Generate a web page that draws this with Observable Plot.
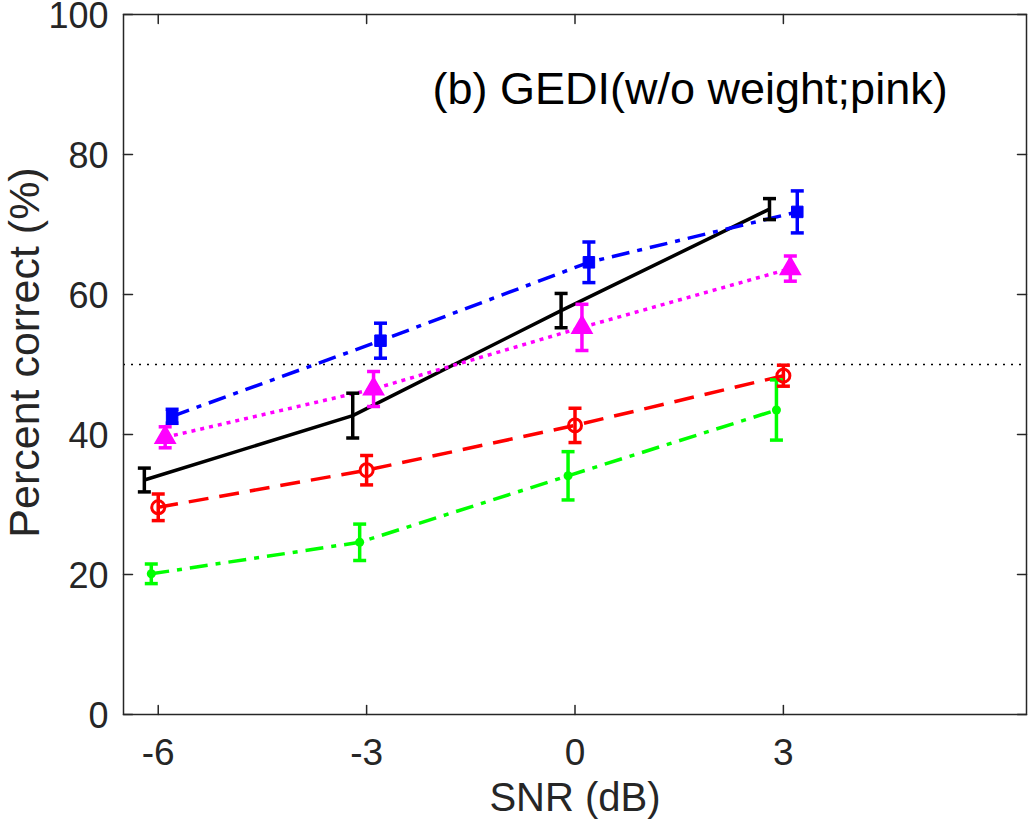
<!DOCTYPE html>
<html><head><meta charset="utf-8">
<script src="https://cdn.jsdelivr.net/npm/d3@7"></script>
<script src="https://cdn.jsdelivr.net/npm/@observablehq/plot@0.6"></script>
<style>
body{margin:0;background:#fff}
#chart svg{font-family:"Liberation Sans",Arial,Helvetica,sans-serif}
</style>
</head><body><div id="chart"></div>
<script>
// ---- data ----
const snr = [-6, -3, 0, 3];
const xTicks = [-6, -3, 0, 3];
const yTicks = [0, 20, 40, 60, 80, 100];
const titleText = ["(b) GEDI(w/o weight;pink)"];
const xLabel = ["SNR (dB)"];
const yLabel = ["Percent correct (%)"];
const chanceLevel = [50];

const seriesNames = ["black", "green", "red", "magenta", "blue"];
const blackMean   = [33.5, 42.7, 57.7, 72.2];
const blackErr    = [1.7, 3.2, 2.45, 1.5];
const greenMean   = [20.1, 24.6, 34.1, 43.5];
const greenErr    = [1.4, 2.6, 3.45, 4.3];
const redMean     = [29.6, 34.9, 41.3, 48.4];
const redErr      = [1.9, 2.1, 2.45, 1.5];
const magentaMean = [39.6, 46.5, 55.3, 63.7];
const magentaErr  = [1.5, 2.5, 3.3, 1.8];
const blueMean    = [42.6, 53.4, 64.6, 71.8];
const blueErr     = [1.0, 2.5, 2.9, 3.0];
// horizontal jitter of each series (dB)
const seriesOffset = [-0.2, -0.1, 0, 0.1, 0.2];

// ---- styles ----
const colors  = {black: "#000000", green: "#00ff00", red: "#ff0000", magenta: "#ff00ff", blue: "#0000ff"};
const dashes  = {black: null, green: "18,8,5,8", red: "20,11", magenta: "4,5", blue: "18,8,5,8"};

const means = {black: blackMean, green: greenMean, red: redMean, magenta: magentaMean, blue: blueMean};
const errs  = {black: blackErr, green: greenErr, red: redErr, magenta: magentaErr, blue: blueErr};

const rows = [];
seriesNames.forEach((s, i) => {
  snr.forEach((x, j) => {
    rows.push({series: s, x: x + seriesOffset[i], mean: means[s][j], lo: means[s][j] - errs[s][j], hi: means[s][j] + errs[s][j]});
  });
});

const capSymbol = {draw(ctx, size) { const r = Math.sqrt(size / Math.PI); ctx.moveTo(-r, 0); ctx.lineTo(r, 0); }};
const tickShape = {draw(ctx, l) { ctx.moveTo(0, 0); ctx.lineTo(0, -l); }};
const axisColor = "#262626";
const lw = 3.5;

const marks = [
  Plot.ruleY(chanceLevel, {stroke: "#000", strokeWidth: 1.6, strokeDasharray: "2,6"}),
  // lines
  ...seriesNames.map(s => Plot.line(rows.filter(d => d.series === s), {
    x: "x", y: "mean", stroke: colors[s], strokeWidth: lw, strokeDasharray: dashes[s], strokeLinecap: "butt"
  })),
  // error bars
  ...seriesNames.map(s => Plot.ruleX(rows.filter(d => d.series === s), {
    x: "x", y1: "lo", y2: "hi", stroke: colors[s], strokeWidth: lw
  })),
  ...seriesNames.map(s => Plot.dot(rows.filter(d => d.series === s), {
    x: "x", y: "lo", symbol: capSymbol, r: 6.5, stroke: colors[s], strokeWidth: lw
  })),
  ...seriesNames.map(s => Plot.dot(rows.filter(d => d.series === s), {
    x: "x", y: "hi", symbol: capSymbol, r: 6.5, stroke: colors[s], strokeWidth: lw
  })),
  // markers
  Plot.dot(rows.filter(d => d.series === "blue"), {x: "x", y: "mean", symbol: "square", r: 6.5, fill: colors.blue, stroke: colors.blue, strokeWidth: 1}),
  Plot.dot(rows.filter(d => d.series === "magenta"), {x: "x", y: "mean", symbol: "triangle", r: 7.5, fill: colors.magenta, stroke: colors.magenta, strokeWidth: 1.5}),
  Plot.dot(rows.filter(d => d.series === "red"), {x: "x", y: "mean", symbol: "circle", r: 6.5, fill: "none", stroke: colors.red, strokeWidth: 3}),
  Plot.dot(rows.filter(d => d.series === "green"), {x: "x", y: "mean", symbol: "circle", r: 4.5, fill: colors.green, stroke: "none"}),
  // frame
  Plot.frame({stroke: axisColor, strokeWidth: 1.5}),
  // inward ticks
  Plot.vector(xTicks, {x: d => d, frameAnchor: "bottom", rotate: 0, length: 9, anchor: "start", shape: tickShape, stroke: axisColor, strokeWidth: 1.5}),
  Plot.vector(xTicks, {x: d => d, frameAnchor: "top", rotate: 180, length: 9, anchor: "start", shape: tickShape, stroke: axisColor, strokeWidth: 1.5}),
  Plot.vector(yTicks, {y: d => d, frameAnchor: "left", rotate: 90, length: 9, anchor: "start", shape: tickShape, stroke: axisColor, strokeWidth: 1.5}),
  Plot.vector(yTicks, {y: d => d, frameAnchor: "right", rotate: -90, length: 9, anchor: "start", shape: tickShape, stroke: axisColor, strokeWidth: 1.5}),
  // tick labels
  Plot.text(xTicks, {x: d => d, text: d => String(d), frameAnchor: "bottom", dy: 50, textAnchor: "middle", lineAnchor: "bottom", fontSize: 37, fill: axisColor}),
  Plot.text(yTicks, {y: d => d, text: d => String(d), frameAnchor: "left", dx: -15, dy: 2, textAnchor: "end", lineAnchor: "middle", fontSize: 36, fill: axisColor}),
  // axis titles
  Plot.text(xLabel, {frameAnchor: "bottom", dy: 96, textAnchor: "middle", lineAnchor: "bottom", fontSize: 40, fill: axisColor}),
  Plot.text(yLabel, {frameAnchor: "left", dx: -98, dy: -12, rotate: -90, textAnchor: "middle", lineAnchor: "middle", fontSize: 43, fill: axisColor}),
  // title
  Plot.text(titleText, {frameAnchor: "top-left", dx: 309, dy: 89, textAnchor: "start", lineAnchor: "bottom", fontSize: 45, fill: "#000"})
];

const chart = Plot.plot({
  width: 1030, height: 823,
  marginLeft: 123, marginRight: 4, marginTop: 14, marginBottom: 109,
  x: {domain: [-6.5, 6.5], axis: null},
  y: {domain: [0, 100], axis: null},
  style: {background: "#fff", fontFamily: '"Liberation Sans", Arial, sans-serif', overflow: "visible"},
  marks
});
document.getElementById("chart").appendChild(chart);
</script>
</body></html>
